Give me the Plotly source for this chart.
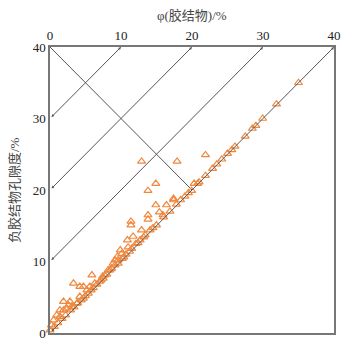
import plotly.graph_objects as go

# cemented-material content (x) vs negative-cement porosity (y), in %
cement = [0, 0.2, 0.5, 0.6, 0.95, 1.1, 1.4, 1.4, 1.7, 1.9, 1.9, 2.2, 2.35, 2.6, 2.8, 2.9, 3.05,
          3.3, 3.4, 3.8, 3.9, 4.2, 4.2, 4.4, 4.7, 4.7, 5.0, 5.2, 5.4, 5.6, 5.8, 5.9, 6.1, 6.3,
          6.6, 7.0, 7.2, 7.4, 7.5, 7.7, 8.0, 8.2, 8.45, 8.7, 8.9, 9.15, 9.15, 9.5, 9.6, 9.6,
          9.9, 10.1, 10.2, 10.4, 10.7, 10.9, 11.0, 11.2, 11.4, 11.4, 11.5, 11.7, 12.1, 12.4,
          12.7, 12.9, 12.9, 13.2, 13.4, 13.8, 13.8, 13.8, 14.1, 14.5, 14.9, 14.9, 15.0, 15.4,
          15.9, 16.0, 16.4, 16.9, 17.4, 17.4, 17.8, 17.9, 18.4, 19.0, 19.5, 19.95, 20.3, 20.8,
          21.0, 21.9, 21.9, 22.9, 23.5, 24.2, 25.0, 25.6, 26.05, 27.5, 28.5, 29.0, 29.95, 31.9, 35.0]
porosity = [0.4, 1.1, 1.8, 0.9, 2.5, 1.4, 2.3, 3.2, 2.0, 3.2, 4.4, 2.5, 3.45, 3.9, 4.4, 3.2, 3.7,
            6.95, 3.6, 4.15, 4.2, 5.1, 6.5, 4.6, 6.5, 4.85, 5.2, 6.0, 5.55, 6.5, 6.0, 8.1, 6.3, 6.95,
            6.8, 7.2, 7.4, 7.9, 7.65, 8.1, 8.2, 8.8, 8.8, 9.05, 9.75, 9.5, 10.2, 10.7, 9.75, 10.2,
            11.6, 11.1, 10.4, 10.6, 11.0, 13.0, 12.0, 11.4, 15.1, 15.6, 11.8, 13.5, 12.5, 12.6,
            13.0, 14.4, 24.0, 13.4, 13.7, 15.9, 16.5, 19.9, 14.4, 14.7, 17.9, 20.9, 15.1, 16.9,
            16.5, 16.2, 17.9, 17.0, 18.6, 18.8, 18.0, 24.0, 18.6, 19.1, 19.6, 19.9, 20.9, 20.9,
            21.1, 22.0, 24.9, 23.0, 23.6, 24.3, 25.1, 25.6, 26.1, 27.5, 28.6, 29.0, 30.0, 32.0, 35.0]

# guide lines y = x + offset (double-headed arrows) and one cross line
guide_offsets = [30, 20, 10, 0]
cross_start = (0, 40)
cross_end = (20, 20)

tick_vals = [0, 10, 20, 30, 40]
x_title = "φ(胶结物)/%"
y_title = "负胶结物孔隙度/%"

line_col = "#555555"
orange = "#F0883E"
font_fam = "'Liberation Serif', 'Noto Sans CJK SC', serif"

fig = go.Figure()

annotations = []
for off in guide_offsets:
    x0, y0 = 0, off
    x1, y1 = 40 - off, 40
    annotations.append(dict(x=x1, y=y1, ax=x0, ay=y0, xref="x", yref="y", axref="x", ayref="y",
                            showarrow=True, arrowhead=2, arrowside="end+start", arrowsize=0.55,
                            arrowwidth=1, arrowcolor=line_col, text=""))

annotations.append(dict(text=x_title, xref="paper", yref="paper", x=0.5, y=1, yshift=22,
                        xanchor="center", yanchor="bottom", showarrow=False,
                        font=dict(size=13, color="#444444")))
annotations.append(dict(text=y_title, xref="paper", yref="paper", x=0, y=0.5, xshift=-36,
                        xanchor="center", yanchor="middle", textangle=-90, showarrow=False,
                        font=dict(size=13, color="#444444")))

fig.add_trace(go.Scatter(x=[cross_start[0], cross_end[0]], y=[cross_start[1], cross_end[1]],
                         mode="lines", line=dict(color=line_col, width=1), hoverinfo="skip",
                         showlegend=False))

fig.add_trace(go.Scatter(x=cement, y=porosity, mode="markers", cliponaxis=False,
                         marker=dict(symbol="triangle-up-open", size=7, color=orange,
                                     line=dict(width=1.2, color=orange)),
                         showlegend=False))

fig.update_layout(
    width=355, height=343,
    margin=dict(l=50, r=21, t=47, b=10),
    paper_bgcolor="white", plot_bgcolor="white",
    font=dict(family=font_fam, size=13, color="#222222"),
    annotations=annotations,
    xaxis=dict(range=[0, 40], side="top", tickvals=tick_vals, showgrid=False, zeroline=False,
               showline=True, linecolor="#777777", linewidth=1.5, mirror=True, ticks="",
               automargin=False, tickfont=dict(size=13)),
    yaxis=dict(range=[0, 40], tickvals=tick_vals, showgrid=False, zeroline=False,
               showline=True, linecolor="#777777", linewidth=1.5, mirror=True, ticks="",
               automargin=False, tickfont=dict(size=13)),
)

fig.write_html("out.html", config={"displayModeBar": False},
               post_script="document.body.style.margin='0';document.body.style.padding='0';")
